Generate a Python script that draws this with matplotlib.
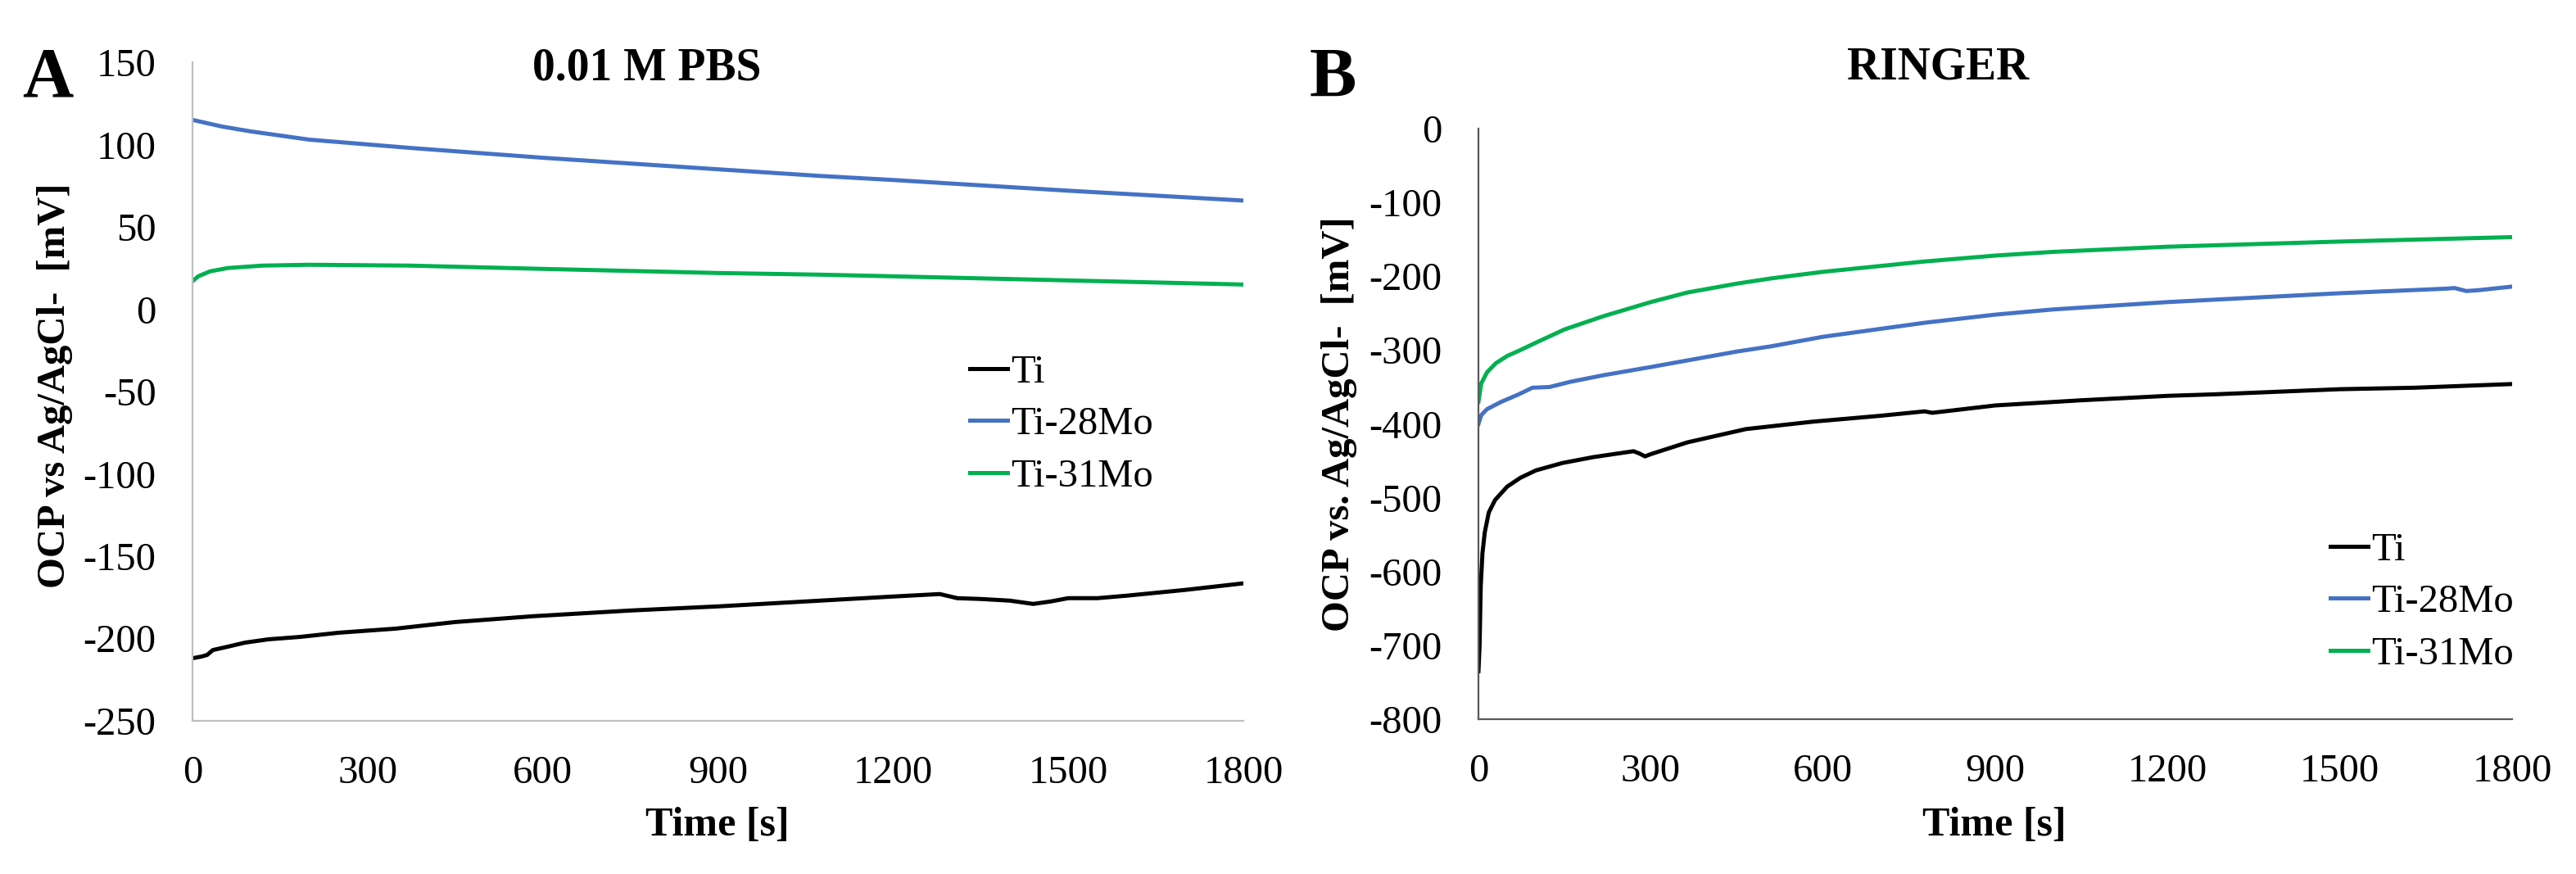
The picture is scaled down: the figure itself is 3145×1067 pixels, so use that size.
import matplotlib.pyplot as plt

# Panel A: 0.01 M PBS
pbs_t_ti = [0, 15, 25, 35, 60, 90, 130, 185, 250, 348, 450, 582, 750, 900, 1050, 1200,
            1280, 1310, 1350, 1400, 1440, 1470, 1500, 1550, 1600, 1700, 1800]
pbs_ti = [-212, -211, -210, -207, -205, -202.5, -200.5, -199, -196.5, -194, -190, -186.5,
          -183, -180.5, -177.5, -174.5, -173, -175.5, -176, -177, -179, -177.5, -175.5,
          -175.5, -174, -170.5, -166.5]
pbs_t_28 = [0, 50, 100, 200, 372, 600, 900, 1073, 1200, 1500, 1800]
pbs_ti28 = [115, 111, 108, 103, 98, 92, 85, 81, 78.5, 72, 66]
pbs_t_31 = [0, 10, 30, 60, 120, 200, 372, 600, 900, 1073, 1200, 1500, 1800]
pbs_ti31 = [17, 20, 23, 25, 26.5, 27, 26.5, 24.5, 22, 21, 20, 17.5, 15]

# Panel B: Ringer
rin_t_ti = [0, 2, 4, 7, 11, 18, 29, 50, 73, 100, 146, 200, 270, 280, 290, 300, 364, 466,
            582, 700, 777, 790, 900, 1050, 1200, 1280, 1500, 1630, 1800]
rin_ti = [-735, -700, -620, -575, -547, -520, -503, -485, -473, -463, -453, -445, -437,
          -440, -444, -441, -425, -407, -397, -389, -383, -385, -375, -368, -362, -360,
          -353, -351, -346]
rin_t_28 = [0, 5, 15, 40, 70, 94, 124, 160, 218, 300, 364, 450, 509, 600, 777, 900, 1000,
            1200, 1500, 1680, 1700, 1720, 1740, 1800]
rin_ti28 = [-400, -388, -380, -370, -360, -351, -350, -343, -334, -323, -314, -302, -295,
            -282, -263, -252, -245, -235, -223, -217, -216, -220, -219, -214]
rin_t_31 = [0, 5, 15, 30, 50, 73, 100, 150, 218, 300, 364, 450, 509, 600, 777, 900, 1000,
            1200, 1500, 1800]
rin_ti31 = [-370, -345, -330, -318, -308, -300, -290, -272, -254, -235, -222, -210, -203,
            -194, -180, -172, -167, -160, -153, -147]

labels = ['Ti', 'Ti-28Mo', 'Ti-31Mo']
colors = ['black', '#4472C4', '#00B050']
x_ticks = [0, 300, 600, 900, 1200, 1500, 1800]

plt.rcParams['font.family'] = 'Liberation Serif'
plt.rcParams['axes.unicode_minus'] = False

fig = plt.figure(figsize=(31.45, 10.67), dpi=100)
ax1 = fig.add_axes([0.07472, 0.17526, 0.40795, 0.7535])
ax2 = fig.add_axes([0.57393, 0.17713, 0.40127, 0.67573])


def style(ax, spine_color, ylim, yticks):
    for s in ['top', 'right']:
        ax.spines[s].set_visible(False)
    for s in ['left', 'bottom']:
        ax.spines[s].set_color(spine_color)
        ax.spines[s].set_linewidth(1.6)
    ax.set_xlim(0, 1800)
    ax.set_ylim(*ylim)
    ax.set_xticks(x_ticks)
    ax.set_yticks(yticks)
    ax.tick_params(axis='both', length=0, labelsize=35)
    ax.tick_params(axis='x', pad=30)
    ax.tick_params(axis='y', pad=32)


# panel A
ax1.plot(pbs_t_ti, pbs_ti, color=colors[0], lw=3.6, label=labels[0])
ax1.plot(pbs_t_28, pbs_ti28, color=colors[1], lw=3.6, label=labels[1])
ax1.plot(pbs_t_31, pbs_ti31, color=colors[2], lw=3.6, label=labels[2])
style(ax1, '#BFBFBF', (-250, 150), list(range(-250, 151, 50)))

# panel B
ax2.plot(rin_t_ti, rin_ti, color=colors[0], lw=3.6, label=labels[0])
ax2.plot(rin_t_28, rin_ti28, color=colors[1], lw=3.6, label=labels[1])
ax2.plot(rin_t_31, rin_ti31, color=colors[2], lw=3.6, label=labels[2])
style(ax2, '#595959', (-800, 0), list(range(-800, 1, 100)))

for ax, anchor in [(ax1, (0.3765, 0.5145)), (ax2, (0.9046, 0.3111))]:
    ax.legend(loc='center left', bbox_to_anchor=anchor, bbox_transform=fig.transFigure,
              frameon=False, fontsize=35, handlelength=0.95, handletextpad=0.08,
              labelspacing=0.4, borderpad=0, borderaxespad=0)

# titles, panel letters, axis labels
fig.text(0.2512, 0.9222, '0.01 M PBS', fontsize=40, fontweight='bold', ha='center', va='center')
fig.text(0.7523, 0.9231, 'RINGER', fontsize=40, fontweight='bold', ha='center', va='center')
fig.text(0.01844, 0.9091, 'A', fontsize=62, fontweight='bold', ha='center', va='center')
fig.text(0.5173, 0.9091, 'B', fontsize=62, fontweight='bold', ha='center', va='center')
fig.text(0.0213, 0.5586, 'OCP vs Ag/AgCl-  [mV]', fontsize=35, fontweight='bold',
         rotation=90, ha='center', va='center')
fig.text(0.5199, 0.5145, 'OCP vs. Ag/AgCl-  [mV]', fontsize=35, fontweight='bold',
         rotation=90, ha='center', va='center')
fig.text(0.2785, 0.0553, 'Time [s]', fontsize=36, fontweight='bold', ha='center', va='center')
fig.text(0.7742, 0.0553, 'Time [s]', fontsize=36, fontweight='bold', ha='center', va='center')

plt.savefig('out.png', dpi=100)
